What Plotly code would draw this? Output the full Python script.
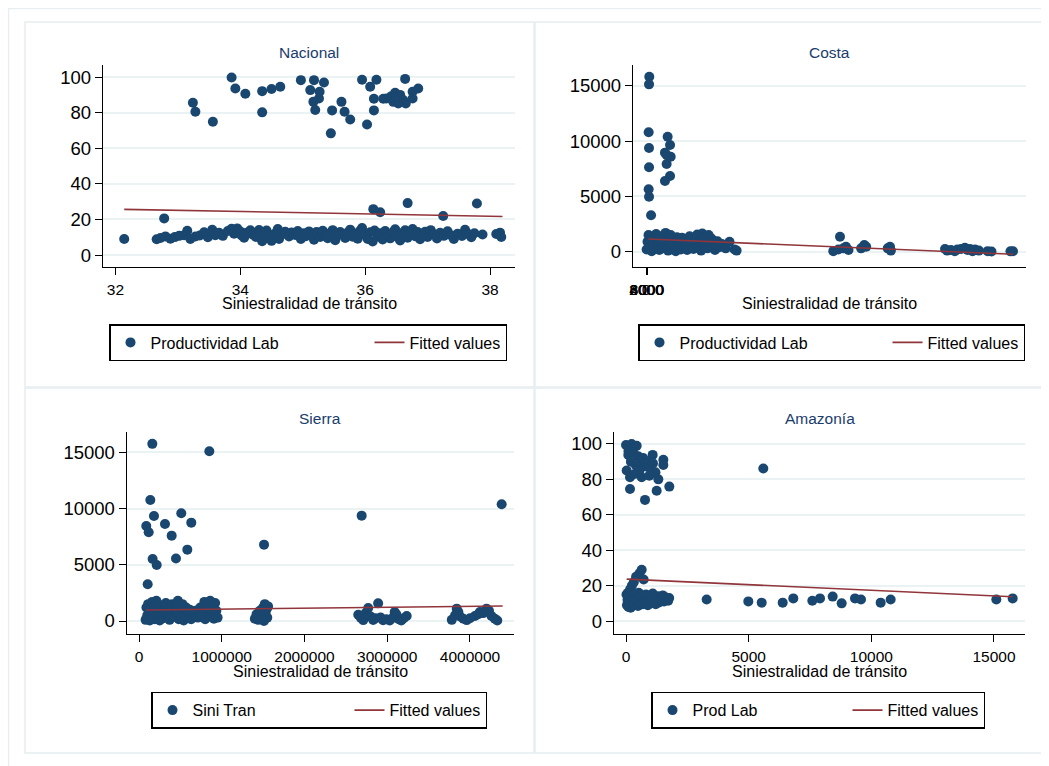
import plotly.graph_objects as go

# page body adds an 8px margin, so the figure is 8px smaller and reference pixels are shifted by 8
OFF = 8
W, H = 1049 - OFF, 766 - OFF
NAVY = "#1a476f"
MAROON = "#90353b"
FONT = "Liberation Sans, Arial, sans-serif"

# ---------------- Nacional ----------------
nac_hi_x = [33.24, 33.28, 33.56, 33.86, 33.92, 34.08, 34.35, 34.35, 34.50, 34.64, 34.97, 35.12, 35.18, 35.17,
            35.20, 35.26, 35.27, 35.34, 35.45, 35.47, 35.62, 35.67, 35.76, 35.95, 36.03, 36.08, 36.14, 36.14,
            36.18, 36.29, 36.34, 36.42, 36.45, 36.48, 36.53, 36.56, 36.61, 36.64, 36.65, 36.76, 36.76, 36.85]
nac_hi_y = [85.6, 80.5, 74.9, 99.8, 93.6, 90.6, 92.1, 80.2, 93.3, 94.6, 98.3, 92.7, 98.3, 86.1,
            81.5, 88.0, 91.8, 97.0, 68.4, 81.3, 86.1, 80.5, 76.2, 98.5, 73.4, 94.6, 87.8, 81.3,
            98.5, 87.8, 88.0, 89.3, 86.1, 91.2, 85.2, 90.0, 87.1, 99.0, 85.2, 91.8, 88.0, 93.6]
nac_out_x = [32.14, 32.78, 36.13, 36.24, 36.68, 37.25, 37.79, 38.16, 38.18]
nac_out_y = [9.0, 20.6, 25.8, 24.1, 29.2, 22.0, 29.0, 12.6, 10.2]
nac_lo_x = [32.66, 32.72, 32.80, 32.88, 32.95, 33.02, 33.10, 33.15, 33.20, 33.28,
            33.35, 33.42, 33.48, 33.55, 33.60, 33.66, 33.72, 33.80, 33.86, 33.90,
            33.95, 34.00, 34.02, 34.06, 34.10, 34.16, 34.20, 34.25, 34.30, 34.35,
            34.38, 34.42, 34.46, 34.50, 34.55, 34.60, 34.62, 34.68, 34.72, 34.78,
            34.82, 34.88, 34.92, 34.97, 35.02, 35.05, 35.10, 35.14, 35.18, 35.22,
            35.28, 35.32, 35.36, 35.40, 35.44, 35.48, 35.52, 35.55, 35.60, 35.64,
            35.68, 35.72, 35.76, 35.80, 35.84, 35.88, 35.92, 35.95, 36.00, 36.04,
            36.08, 36.12, 36.15, 36.20, 36.24, 36.28, 36.32, 36.36, 36.40, 36.44,
            36.48, 36.52, 36.56, 36.60, 36.64, 36.68, 36.72, 36.76, 36.80, 36.84,
            36.88, 36.92, 36.96, 37.00, 37.05, 37.10, 37.15, 37.20, 37.26, 37.32,
            37.38, 37.42, 37.48, 37.55, 37.60, 37.65, 37.70, 37.75, 37.88, 38.10]
nac_lo_y = [8.9, 9.6, 10.5, 9.2, 10.1, 10.8, 11.2, 13.6, 9.0, 10.4,
            11.0, 12.8, 10.0, 14.2, 11.1, 12.5, 10.8, 13.5, 14.8, 12.0,
            15.0, 13.2, 11.0, 9.8, 12.6, 13.9, 11.5, 10.2, 14.1, 7.8,
            12.3, 13.8, 10.5, 8.0, 12.0, 14.6, 9.1, 11.9, 13.1, 10.4,
            12.7, 11.3, 13.5, 9.0, 12.2, 10.6, 13.3, 11.1, 8.6, 12.9,
            10.2, 13.7, 11.6, 9.5, 12.4, 14.0, 8.3, 10.9, 13.0, 11.4,
            9.6, 12.6, 14.3, 10.3, 12.1, 9.2, 13.6, 15.2, 11.2, 9.0,
            12.8, 7.6, 13.8, 10.4, 12.2, 8.8, 13.5, 11.0, 9.4, 12.7,
            14.5, 10.1, 8.2, 12.4, 13.9, 9.7, 11.8, 14.6, 10.6, 12.9,
            8.9, 11.5, 13.1, 10.2, 14.0, 11.7, 9.3, 12.5, 10.8, 13.4,
            11.0, 9.1, 12.0, 10.7, 14.2, 11.9, 10.0, 12.3, 11.6, 11.8]
nac_fit_x = [32.14, 38.20]
nac_fit_y = [25.7, 21.7]

# ---------------- Costa ----------------
cos_out_x = [26000, 24000, 21000, 24000, 24000, 21000, 24000, 40000,
             171000, 190000, 163000, 195000, 150000, 163000, 190000, 150000]
cos_out_y = [15813, 15120, 10789, 9370, 7625, 5638, 4970, 3289,
             10391, 9641, 8738, 8584, 8950, 7925, 6840, 6388]
cos_lo_x = [5000, 12000, 20000, 28000, 35000, 45000, 55000, 62000, 70000, 80000,
            88000, 95000, 105000, 115000, 125000, 135000, 145000, 155000, 165000, 175000,
            185000, 195000, 205000, 215000, 225000, 235000, 245000, 255000, 265000, 275000,
            285000, 295000, 305000, 315000, 325000, 335000, 345000, 355000, 365000, 375000,
            385000, 395000, 405000, 415000, 425000, 435000, 445000, 455000, 465000, 475000,
            485000, 495000, 505000, 515000, 525000, 535000, 545000, 555000, 565000, 580000,
            600000, 630000, 660000, 700000, 716000]
cos_lo_y = [200, 900, 1500, 400, 1100, 50, 700, 1300, 250, 1600,
            600, 1000, 150, 1400, 800, 300, 1200, 1700, 500, 100,
            950, 1500, 350, 1150, 700, 50, 1300, 600, 900, 200,
            1250, 750, 400, 1050, 150, 850, 1400, 500, 1000, 250,
            700, 1200, 1550, 450, 900, 100, 1650, 1300, 600, 1000,
            300, 1500, 800, 1200, 400, 1000, 150, 600, 950, 400,
            700, 300, 900, 200, 100]
cos_mid_x = [1480000, 1520000, 1533000, 1560000, 1580000, 1600000, 1700000, 1725000, 1740000,
             1910000, 1928000, 1935000]
cos_mid_y = [50, 200, 1350, 300, 450, 150, 300, 600, 450, 300, 450, 100]
cos_rt_x = [2363000, 2380000, 2410000, 2440000, 2460000, 2490000, 2520000, 2540000, 2560000,
            2580000, 2600000, 2630000, 2700000, 2730000, 2880000, 2900000]
cos_rt_y = [250, 100, 150, 50, 200, 250, 350, 150, 250, 50, 200, 100, 50, 20, 30, 40]
cos_fit_x = [18000, 2900000]
cos_fit_y = [1148, -235]
cos_xticks = [0, 2000, 4000, 6000, 8000]

# ---------------- Sierra ----------------
sie_out_x = [161000, 850000, 137000, 511000, 181000, 88000, 314000, 632000, 117000, 395000,
             2691000, 4383000, 1511000, 584000, 165000, 447000, 214000, 105000]
sie_out_y = [15750, 15088, 10760, 9574, 9337, 8447, 8625, 8744, 7884, 7588,
             9366, 10374, 6788, 6343, 5513, 5550, 4980, 3260]
sie_lo_x = [80000, 90000, 100000, 110000, 120000, 130000, 140000, 150000, 160000, 170000,
            180000, 190000, 200000, 210000, 220000, 235000, 250000, 265000, 280000, 295000,
            310000, 325000, 340000, 355000, 370000, 385000, 400000, 415000, 430000, 445000,
            460000, 470000, 480000, 495000, 510000, 525000, 540000, 555000, 570000, 585000,
            600000, 615000, 630000, 650000, 680000, 710000, 740000, 770000, 790000, 800000,
            815000, 830000, 845000, 860000, 875000, 890000, 905000, 920000, 935000, 950000]
sie_lo_y = [100, 1200, 500, 1500, 800, 50, 1000, 300, 1700, 600,
            1300, 150, 900, 1800, 400, 1100, 50, 700, 1400, 250,
            950, 1600, 500, 1200, 100, 800, 1500, 350, 1000, 1300,
            600, 1800, 150, 1100, 450, 1500, 50, 850, 1200, 300,
            700, 1000, 150, 500, 900, 300, 1200, 600, 1700, 150,
            1000, 1400, 400, 1800, 800, 1200, 200, 1600, 900, 300]
sie_mid_x = [1400000, 1420000, 1440000, 1460000, 1480000, 1500000, 1510000, 1520000, 1530000,
             1545000, 1560000, 1550000]
sie_mid_y = [200, 600, 100, 900, 400, 1200, 0, 1500, 700, 1100, 1300, 300]
sie_r1_x = [2650000, 2680000, 2710000, 2740000, 2770000, 2800000, 2830000, 2860000, 2890000, 2920000,
            2950000, 2990000, 3030000, 3070000, 3090000, 3110000, 3140000, 3170000, 3200000, 3235000]
sie_r1_y = [550, 300, 80, 700, 1150, 400, 90, 250, 1570, 300,
            60, 150, 50, 300, 800, 600, 150, 50, 250, 450]
sie_r2_x = [3780000, 3820000, 3840000, 3860000, 3880000, 3920000, 3960000, 4000000, 4060000,
            4100000, 4120000, 4160000, 4200000, 4230000, 4260000, 4300000, 4330000]
sie_r2_y = [100, 500, 1100, 800, 400, 200, 80, 250, 450, 600, 800, 700, 1100, 900, 450, 200, 50]
sie_fit_x = [84600, 4395000]
sie_fit_y = [978, 1334]

# ---------------- Amazonía ----------------
ama_hi_x = [0, 230, 435, 100, 95, 27, 163, 163, 775, 1250, 1766, 1522, 1522, 1087, 1318, 639, 843,
            300, 500, 600, 700, 400, 550, 900, 1000, 1100, 1200, 200, 350, 950, 5597]
ama_hi_y = [99.4, 100, 98.9, 96, 93.8, 85, 81.2, 74.6, 68.4, 73.6, 75.9, 91, 88.1, 93.8, 80, 81.2, 87.2,
            95, 93, 90, 92, 88, 85, 90, 86, 89, 84, 90, 83, 82, 86.1]
ama_lo_x = [20, 40, 60, 80, 100, 120, 150, 170, 190, 210, 240, 260, 290, 320, 350, 380, 410, 430,
            460, 490, 520, 550, 580, 610, 640, 660, 690, 720, 750, 780, 810, 850, 890, 930, 970,
            1010, 1050, 1090, 1130, 1170, 1210, 1250, 1300, 1350, 1400, 1450, 1500, 1550, 1600,
            1650, 1720, 1760]
ama_lo_y = [15, 9, 12, 16, 8, 13, 11, 18, 7.5, 14, 20, 10, 12.5, 22, 9, 15, 25, 11,
            13.5, 8.5, 16, 27, 12, 10, 29, 14, 9.5, 23.5, 12.5, 10.5, 15, 11.5, 9, 13, 14.5,
            10, 12, 15.5, 11, 13, 9.5, 12.5, 14, 10.5, 13, 12, 14.5, 11, 13.5,
            12, 11.5, 13]
ama_out_x = [15761, 15095, 10788, 10381, 9579, 9334, 8791, 8425, 7908, 7595, 6820, 6387, 5531, 4986, 3288]
ama_out_y = [12.8, 12.2, 12.2, 10.4, 12.2, 12.8, 10.0, 13.8, 12.8, 11.5, 12.8, 10.4, 10.4, 11.1, 12.2]
ama_fit_x = [27, 15761]
ama_fit_y = [23.7, 13.7]

X_TITLE = "Siniestralidad de tránsito"


def fx(p):
    return (p - OFF) / W


def fy(p):
    return 1 - (p - OFF) / H


panels = [
    dict(name="Nacional", xs=[nac_hi_x, nac_out_x, nac_lo_x], ys=[nac_hi_y, nac_out_y, nac_lo_y],
         fx_=nac_fit_x, fy_=nac_fit_y, label="Productividad Lab",
         dom=(103, 515, 65, 267), xr=[31.80, 38.40], yr=[-6.7, 106.8],
         xt=dict(tickvals=[32, 34, 36, 38]), yt=dict(tickvals=[0, 20, 40, 60, 80, 100]),
         leg=(109, 324), lw=214),
    dict(name="Costa", xs=[cos_out_x, cos_lo_x, cos_mid_x, cos_rt_x], ys=[cos_out_y, cos_lo_y, cos_mid_y, cos_rt_y],
         fx_=cos_fit_x, fy_=cos_fit_y, label="Productividad Lab",
         dom=(633, 1026, 65, 267), xr=[-102700, 3002700], yr=[-1383, 16870],
         xt=dict(tickvals=cos_xticks, ticktext=[str(v) for v in cos_xticks]),
         yt=dict(tickvals=[0, 5000, 10000, 15000]),
         leg=(638, 324), lw=203),
    dict(name="Sierra", xs=[sie_out_x, sie_lo_x, sie_mid_x, sie_r1_x, sie_r2_x],
         ys=[sie_out_y, sie_lo_y, sie_mid_y, sie_r1_y, sie_r2_y],
         fx_=sie_fit_x, fy_=sie_fit_y, label="Sini Tran",
         dom=(126.7, 514, 431.7, 634), xr=[-148600, 4532000], yr=[-1156, 16830],
         xt=dict(tickvals=[0, 1000000, 2000000, 3000000, 4000000]),
         yt=dict(tickvals=[0, 5000, 10000, 15000]),
         leg=(151, 691.7), lw=152),
    dict(name="Amazonía", xs=[ama_hi_x, ama_lo_x, ama_out_x], ys=[ama_hi_y, ama_lo_y, ama_out_y],
         fx_=ama_fit_x, fy_=ama_fit_y, label="Prod Lab",
         dom=(614, 1025, 431.7, 634), xr=[-489, 16264], yr=[-7.3, 106.9],
         xt=dict(tickvals=[0, 5000, 10000, 15000]),
         yt=dict(tickvals=[0, 20, 40, 60, 80, 100]),
         leg=(651, 691.7), lw=150),
]

fig = go.Figure()
annotations = []
layout_upd = {}

for i, p in enumerate(panels):
    n = i + 1
    xa = "x" if n == 1 else f"x{n}"
    ya = "y" if n == 1 else f"y{n}"
    legname = "legend" if n == 1 else f"legend{n}"
    allx = [v for arr in p["xs"] for v in arr]
    ally = [v for arr in p["ys"] for v in arr]
    fig.add_trace(go.Scatter(x=allx, y=ally, mode="markers", name=p["label"],
                             marker=dict(color=NAVY, size=10, line=dict(width=0)),
                             legendwidth=p["lw"],
                             xaxis=xa, yaxis=ya, legend=legname))
    fig.add_trace(go.Scatter(x=p["fx_"], y=p["fy_"], mode="lines", name="Fitted values",
                             line=dict(color=MAROON, width=1.6),
                             xaxis=xa, yaxis=ya, legend=legname))
    x0, x1, y0, y1 = p["dom"]
    xkey = "xaxis" if n == 1 else f"xaxis{n}"
    ykey = "yaxis" if n == 1 else f"yaxis{n}"
    layout_upd[xkey] = dict(domain=[fx(x0), fx(x1)], anchor=ya, range=p["xr"], showgrid=False,
                            zeroline=False, showline=True, linecolor="black", linewidth=1.3,
                            ticks="outside", ticklen=7, tickwidth=1.2, tickcolor="black",
                            tickangle=0, tickformat="d", ticklabelstandoff=1,
                            tickfont=dict(family=FONT, size=15.5, color="black"), **p["xt"])
    layout_upd[ykey] = dict(domain=[fy(y1), fy(y0)], anchor=xa, range=p["yr"], showgrid=True,
                            gridcolor="#eaf2f3", gridwidth=1.6, zeroline=False, showline=True,
                            linecolor="black", linewidth=1.3, ticks="outside", ticklen=7,
                            tickwidth=1.2, tickcolor="black", tickformat="d",
                            tickfont=dict(family=FONT, size=18.5, color="black"), **p["yt"])
    # subplot title
    annotations.append(dict(text=p["name"], x=fx((x0 + x1) / 2), y=fy(y0 - 13), xref="paper", yref="paper",
                            xanchor="center", yanchor="middle", showarrow=False,
                            font=dict(family=FONT, size=15.5, color="#1a3d6d")))
    # x-axis title
    annotations.append(dict(text=X_TITLE, x=fx((x0 + x1) / 2), y=fy(y1 + 37), xref="paper", yref="paper",
                            xanchor="center", yanchor="middle", showarrow=False,
                            font=dict(family=FONT, size=16, color="black")))
    lx, ly = p["leg"]
    layout_upd[legname] = dict(x=fx(lx), y=fy(ly), xanchor="left", yanchor="top", orientation="h",
                               bordercolor="black", borderwidth=1.5, bgcolor="white",
                               font=dict(family=FONT, size=16, color="black"))

frame = "#e6eef1"
shapes = [
    dict(type="rect", xref="paper", yref="paper", x0=fx(8.5), x1=fx(1060), y0=fy(8.5), y1=fy(780),
         line=dict(color=frame, width=1.5)),
    dict(type="rect", xref="paper", yref="paper", x0=fx(25), x1=fx(534), y0=fy(22), y1=fy(387),
         line=dict(color=frame, width=1.5)),
    dict(type="rect", xref="paper", yref="paper", x0=fx(535), x1=fx(1042), y0=fy(22), y1=fy(387),
         line=dict(color=frame, width=1.5)),
    dict(type="rect", xref="paper", yref="paper", x0=fx(25), x1=fx(534), y0=fy(388), y1=fy(753),
         line=dict(color=frame, width=1.5)),
    dict(type="rect", xref="paper", yref="paper", x0=fx(535), x1=fx(1042), y0=fy(388), y1=fy(753),
         line=dict(color=frame, width=1.5)),
]

fig.update_layout(width=W, height=H, margin=dict(l=0, r=0, t=0, b=0, autoexpand=False),
                  paper_bgcolor="white", plot_bgcolor="white",
                  annotations=annotations, shapes=shapes, **layout_upd)

fig.write_html("out.html")
